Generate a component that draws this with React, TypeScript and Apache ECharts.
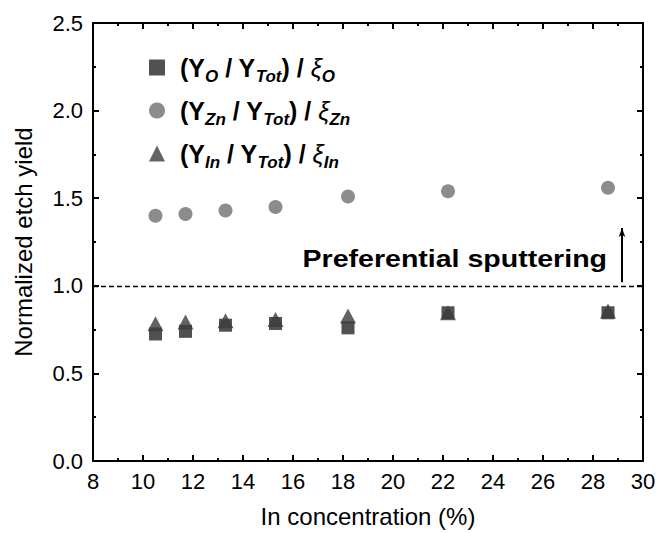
import React, { useEffect, useRef } from "react";
import * as echarts from "echarts";

// In concentration (%) of each sample
const inConcentration = [10.5, 11.7, 13.3, 15.3, 18.2, 22.2, 28.6];
// Normalized etch yields per element
const yieldO = [0.725, 0.74, 0.775, 0.785, 0.76, 0.846, 0.846];
const yieldZn = [1.4, 1.41, 1.43, 1.45, 1.51, 1.54, 1.56];
const yieldIn = [0.783, 0.794, 0.8, 0.808, 0.827, 0.846, 0.856];

const xTicks = { min: 8, max: 30, interval: 2 };
const yTicks = { min: 0, max: 2.5, interval: 0.5 };
const referenceLevel = 1.0;
const arrowX = 29.16;
const arrowFrom = 1.02;
const arrowTo = 1.33;

const FONT = "'Liberation Sans', Arial, sans-serif";

const pairs = (ys: number[]) => inConcentration.map((x, i) => [x, ys[i]]);

const axisCommon = {
  axisLine: { show: true, onZero: false, lineStyle: { color: "#000", width: 2 } },
  axisTick: { show: true, inside: true, length: 6, lineStyle: { color: "#000", width: 2 } },
  minorTick: { show: true, splitNumber: 2, length: 3, lineStyle: { color: "#000", width: 2 } },
  splitLine: { show: false },
};

export default function App() {
  const ref = useRef<HTMLDivElement>(null);

  useEffect(() => {
    if (!ref.current) return;
    const chart = echarts.init(ref.current, undefined, { renderer: "svg" });

    const legendLabel = (name: string) =>
      `{p| }{a|(Y}{s|${name}}{a| / Y}{s|Tot}{a|) / }{x|ξ}{s|${name}}`;

    chart.setOption({
      animation: false,
      backgroundColor: "#fff",
      grid: { left: 93, right: 26, top: 23, bottom: 67 },
      xAxis: [
        {
          type: "value",
          ...xTicks,
          ...axisCommon,
          name: "In concentration (%)",
          nameLocation: "middle",
          nameGap: 43,
          nameTextStyle: { fontFamily: FONT, fontSize: 24, color: "#000" },
          axisLabel: { fontFamily: FONT, fontSize: 22, color: "#000", margin: 9 },
        },
        {
          type: "value",
          position: "top",
          ...xTicks,
          ...axisCommon,
          axisLabel: { show: false },
        },
      ],
      yAxis: [
        {
          type: "value",
          ...yTicks,
          ...axisCommon,
          name: "Normalized etch yield",
          nameLocation: "middle",
          nameGap: 58,
          nameTextStyle: { fontFamily: FONT, fontSize: 24, color: "#000" },
          axisLabel: {
            fontFamily: FONT,
            fontSize: 22,
            color: "#000",
            margin: 10,
            formatter: (v: number) => v.toFixed(1),
          },
        },
        {
          type: "value",
          position: "right",
          ...yTicks,
          ...axisCommon,
          axisLabel: { show: false },
        },
      ],
      legend: {
        orient: "vertical",
        left: 144,
        top: 45,
        itemWidth: 16,
        itemHeight: 16,
        itemGap: 8,
        selectedMode: false,
        formatter: legendLabel,
        textStyle: {
          rich: {
            p: { width: 10, fontSize: 10, lineHeight: 30 },
            a: { fontFamily: FONT, fontSize: 25, fontWeight: "bold", color: "#000", lineHeight: 30 },
            x: { fontFamily: FONT, fontSize: 25, fontStyle: "italic", color: "#000", lineHeight: 30 },
            s: {
              fontFamily: FONT,
              fontSize: 17,
              fontWeight: "bold",
              fontStyle: "italic",
              color: "#000",
              lineHeight: 17,
              padding: [18, 0, 0, 0],
            },
          },
        },
        data: ["O", "Zn", "In"],
      },
      series: [
        {
          name: "O",
          type: "scatter",
          symbol: "rect",
          symbolSize: 13,
          itemStyle: { color: "#262626" },
          data: pairs(yieldO),
          z: 3,
        },
        {
          name: "Zn",
          type: "scatter",
          symbol: "circle",
          symbolSize: 14,
          itemStyle: { color: "#6f6f6f" },
          data: pairs(yieldZn),
          z: 3,
        },
        {
          name: "In",
          type: "scatter",
          symbol: "triangle",
          symbolSize: [16, 15],
          itemStyle: { color: "#3c3c3c" },
          data: pairs(yieldIn),
          z: 4,
        },
        {
          name: "guides",
          type: "line",
          data: [],
          silent: true,
          markLine: {
            silent: true,
            animation: false,
            label: { show: false },
            data: [
              [
                { coord: [xTicks.min, referenceLevel], symbol: "none" },
                { coord: [xTicks.max, referenceLevel], symbol: "none" },
              ],
              [
                { coord: [arrowX, arrowFrom], symbol: "none", lineStyle: { type: "solid", width: 2 } },
                { coord: [arrowX, arrowTo], symbol: "arrow", symbolSize: [5, 9], lineStyle: { type: "solid", width: 2 } },
              ],
            ],
            lineStyle: { color: "#000", type: [5, 3], width: 1.3 },
          },
        },
      ],
      graphic: [
        {
          type: "text",
          x: 607,
          y: 259,
          scaleX: 1.19,
          style: {
            text: "Preferential sputtering",
            fontFamily: FONT,
            fontSize: 24,
            fontWeight: "bold",
            fill: "#000",
            align: "right",
            verticalAlign: "middle",
          },
        },
      ],
    });

    return () => chart.dispose();
  }, []);

  return <div ref={ref} style={{ width: 669, height: 533, position: "absolute", left: 0, top: 0 }} />;
}
